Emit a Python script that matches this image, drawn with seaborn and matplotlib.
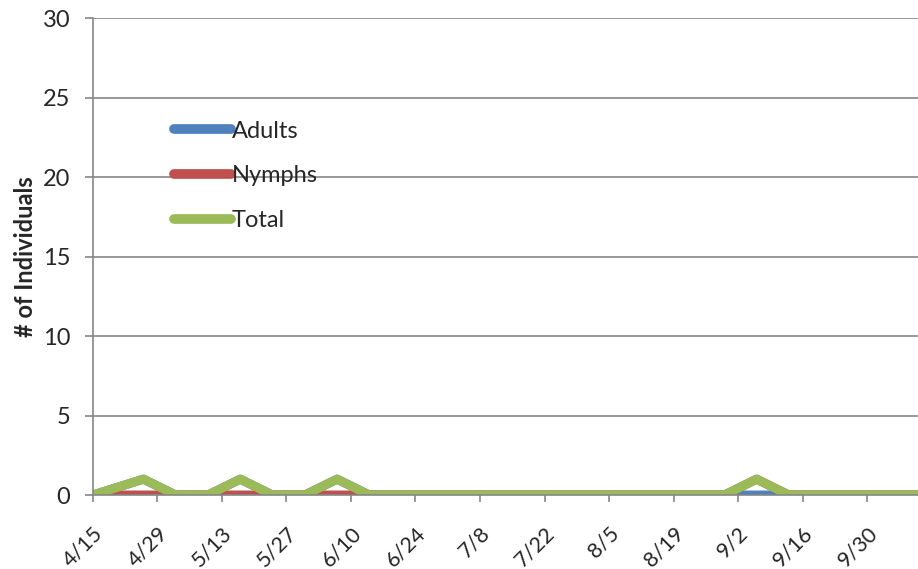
import pandas as pd
import numpy as np
import matplotlib
matplotlib.use("Agg")
import matplotlib.pyplot as plt
import seaborn as sns

# -----------------------------------
# Data
# -----------------------------------

sample_dates = ["4/15", "4/26", "5/3", "5/10", "5/17", "5/24", "5/31", "6/7",
                "6/14", "6/21", "6/28", "7/5", "7/12", "7/19", "7/26", "8/2",
                "8/9", "8/16", "8/23", "8/30", "9/6", "9/13", "9/20", "9/27",
                "10/4", "10/11"]
adults = [0, 1, 0, 0, 1, 0, 0, 1, 0, 0, 0, 0, 0, 0, 0, 0,
          0, 0, 0, 0, 0, 0, 0, 0, 0, 0]
nymphs = [0, 0, 0, 0, 0, 0, 0, 0, 0, 0, 0, 0, 0, 0, 0, 0,
          0, 0, 0, 0, 1, 0, 0, 0, 0, 0]
total = [a + n for a, n in zip(adults, nymphs)]

tick_labels = ["4/15", "4/29", "5/13", "5/27", "6/10", "6/24", "7/8",
               "7/22", "8/5", "8/19", "9/2", "9/16", "9/30"]

series_names = ["Adults", "Nymphs", "Total"]
colors = ["#4F81BD", "#C0504D", "#9BBB59"]

year = "2013"
dates = pd.to_datetime([year + "/" + d for d in sample_dates], format="%Y/%m/%d")
tick_dates = pd.to_datetime([year + "/" + d for d in tick_labels], format="%Y/%m/%d")

df = pd.DataFrame({"Date": list(dates) * 3,
                   "Count": adults + nymphs + total,
                   "Series": np.repeat(series_names, len(dates))})

# -----------------------------------
# Plot
# -----------------------------------

sns.set_style("white")
plt.rcParams["font.family"] = ["Lato", "DejaVu Sans"]

fig = plt.figure(figsize=(9.18, 5.69), dpi=100)
ax = fig.add_axes([0.101, 0.130, 0.899, 0.838])

sns.lineplot(data=df, x="Date", y="Count", hue="Series",
             hue_order=series_names, palette=colors,
             linewidth=6.5, ax=ax, solid_capstyle="butt")

ax.set_ylim(0, 30)
ax.set_yticks(range(0, 31, 5))
ax.set_xlim(dates[0], dates[-1])
ax.set_xticks(tick_dates)
ax.set_xticklabels(tick_labels, rotation=45, ha="right",
                   rotation_mode="anchor", fontsize=15.5)
ax.tick_params(axis="y", labelsize=17, length=6, width=1.2,
               color="#868686", pad=10, left=True)
ax.tick_params(axis="x", length=5, width=1.2, color="#868686",
               pad=15, bottom=True, direction="out")

ax.yaxis.grid(True, color="#868686", linewidth=1.2)
ax.set_axisbelow(True)
for side in ["top", "right"]:
    ax.spines[side].set_visible(False)
ax.spines["left"].set_color("#868686")
ax.spines["bottom"].set_color("#868686")
ax.spines["left"].set_linewidth(1.2)
ax.spines["bottom"].set_linewidth(1.2)

ax.set_xlabel("")
ax.set_ylabel("# of Individuals", fontsize=17, fontweight="bold", labelpad=4)

leg = ax.legend(loc="upper left", bbox_to_anchor=(0.087, 0.805), frameon=False,
                fontsize=17, handlelength=2.4, handletextpad=0.05,
                labelspacing=1.0, borderaxespad=0)
for line in leg.get_lines():
    line.set_linewidth(7)
    line.set_solid_capstyle("round")

plt.savefig("out.png", dpi=100)
